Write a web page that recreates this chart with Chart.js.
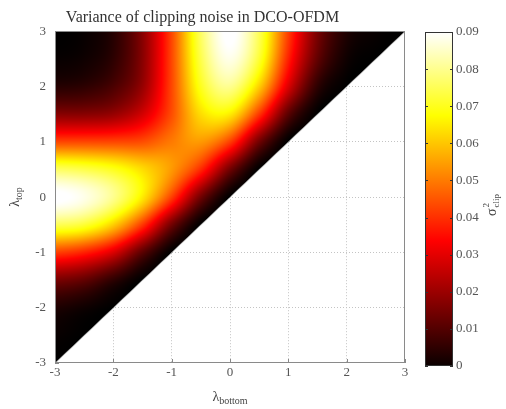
<!DOCTYPE html>
<html>
<head>
<meta charset="utf-8">
<script src="https://cdn.jsdelivr.net/npm/chart.js@4/dist/chart.umd.min.js"></script>
<style>
  html, body { margin: 0; padding: 0; background: #fff; }
  #wrap { position: relative; width: 506px; height: 409px; overflow: hidden; }
  #heat { position: absolute; left: 0; top: 0; }
  #cbar { position: absolute; left: 410px; top: 0; }
</style>
</head>
<body>
<div id="wrap">
  <canvas id="heat" width="420" height="409"></canvas>
  <canvas id="cbar" width="96" height="409"></canvas>
</div>
<script>
// grid nodes of the picture
const lambdaBottom = [-3, -2.5, -2, -1.5, -1, -0.5, 0, 0.5, 1, 1.5, 2, 2.5, 3];
const lambdaTop = [3, 2.5, 2, 1.5, 1, 0.5, 0, -0.5, -1, -1.5, -2, -2.5, -3];

// clipping noise variance, one row per lambda_top (only where bottom <= top)
const rowTop3 = [0.000, 0.001, 0.005, 0.018, 0.043, 0.076, 0.091, 0.075, 0.042, 0.016, 0.004, 0.001, 0.000];
const rowTop2p5 = [0.001, 0.002, 0.006, 0.018, 0.043, 0.074, 0.088, 0.072, 0.038, 0.013, 0.002, 0.000];
const rowTop2 = [0.005, 0.006, 0.010, 0.020, 0.043, 0.070, 0.080, 0.061, 0.029, 0.006, 0.000];
const rowTop1p5 = [0.018, 0.018, 0.020, 0.028, 0.044, 0.063, 0.065, 0.041, 0.012, 0.000];
const rowTop1 = [0.043, 0.043, 0.043, 0.044, 0.050, 0.054, 0.042, 0.015, 0.000];
const rowTop0p5 = [0.076, 0.074, 0.070, 0.063, 0.054, 0.039, 0.015, 0.000];
const rowTop0 = [0.091, 0.088, 0.080, 0.065, 0.042, 0.015, 0.000];
const rowTopM0p5 = [0.075, 0.072, 0.061, 0.041, 0.015, 0.000];
const rowTopM1 = [0.042, 0.038, 0.029, 0.012, 0.000];
const rowTopM1p5 = [0.016, 0.013, 0.006, 0.000];
const rowTopM2 = [0.004, 0.002, 0.000];
const rowTopM2p5 = [0.001, 0.000];
const rowTopM3 = [0.000];

const varianceRows = [rowTop3, rowTop2p5, rowTop2, rowTop1p5, rowTop1, rowTop0p5, rowTop0,
    rowTopM0p5, rowTopM1, rowTopM1p5, rowTopM2, rowTopM2p5, rowTopM3];

const axisTicks = [-3, -2, -1, 0, 1, 2, 3];
const colorTicks = [0, 0.01, 0.02, 0.03, 0.04, 0.05, 0.06, 0.07, 0.08, 0.09];
const colorMax = 0.09;

const serif = '"Liberation Serif", "DejaVu Serif", serif';
const textGray = '#555';

// matlab "hot"
let hot = t => {
    t = Math.min(1, Math.max(0, t));
    return [
        Math.min(1, t / 0.375) * 255,
        Math.min(1, Math.max(0, (t - 0.375) / 0.375)) * 255,
        Math.min(1, Math.max(0, (t - 0.75) / 0.25)) * 255
    ];
};

let heatPoints = [];
varianceRows.forEach((row, r) => {
    row.forEach((v, c) => heatPoints.push({x: lambdaBottom[c], y: lambdaTop[r], v: v}));
});

let cubic = (p0, p1, p2, p3, t) =>
    p1 + 0.5 * t * (p2 - p0 + t * (2 * p0 - 5 * p1 + 4 * p2 - p3 + t * (3 * (p1 - p2) + p3 - p0)));

// draws the field from the dataset nodes, placed through the x/y scales
const heatLayer = {
    id: 'heatLayer',
    beforeDatasetsDraw(chart) {
        const {ctx, chartArea: a, scales: {x, y}} = chart;
        const nR = lambdaTop.length, nC = lambdaBottom.length;
        const grid = lambdaTop.map(() => lambdaBottom.map(() => 0));
        chart.data.datasets[0].data.forEach(p => {
            grid[lambdaTop.indexOf(p.y)][lambdaBottom.indexOf(p.x)] = p.v;
        });
        const g = (r, c) => grid[Math.min(nR - 1, Math.max(0, r))][Math.min(nC - 1, Math.max(0, c))];
        const stepX = lambdaBottom[1] - lambdaBottom[0];
        const stepY = lambdaTop[0] - lambdaTop[1];

        // inward ticks, under the image like matlab
        ctx.save();
        ctx.strokeStyle = '#888';
        ctx.lineWidth = 1;
        axisTicks.forEach(t => {
            const px = Math.round(x.getPixelForValue(t)) + 0.5;
            ctx.beginPath(); ctx.moveTo(px, a.bottom); ctx.lineTo(px, a.bottom - 4); ctx.stroke();
            const py = Math.round(y.getPixelForValue(t)) + 0.5;
            ctx.beginPath(); ctx.moveTo(a.left, py); ctx.lineTo(a.left + 4, py); ctx.stroke();
        });
        ctx.restore();

        const w = Math.round(a.right - a.left), h = Math.round(a.bottom - a.top);
        const off = document.createElement('canvas');
        off.width = w; off.height = h;
        const octx = off.getContext('2d');
        const img = octx.createImageData(w, h);

        const p0x = x.getPixelForValue(lambdaBottom[0]), p0y = y.getPixelForValue(lambdaBottom[0]);
        const p1x = x.getPixelForValue(lambdaBottom[nC - 1]), p1y = y.getPixelForValue(lambdaBottom[nC - 1]);
        const dx = p1x - p0x, dy = p1y - p0y, len = Math.hypot(dx, dy);

        for (let j = 0; j < h; j++) {
            const Y = a.top + j + 0.5;
            const yv = y.getValueForPixel(Y);
            const fr = (lambdaTop[0] - yv) / stepY;
            const r0 = Math.floor(fr), tr = fr - r0;
            for (let i = 0; i < w; i++) {
                const X = a.left + i + 0.5;
                const d = ((X - p0x) * dy - (Y - p0y) * dx) / len;
                const alpha = Math.min(1, Math.max(0, d + 0.5));
                if (alpha <= 0) continue;
                const xv = x.getValueForPixel(X);
                const fc = (xv - lambdaBottom[0]) / stepX;
                const c0 = Math.floor(fc), tc = fc - c0;
                const cols = [];
                for (let k = -1; k <= 2; k++) {
                    cols.push(cubic(g(r0 - 1, c0 + k), g(r0, c0 + k), g(r0 + 1, c0 + k), g(r0 + 2, c0 + k), tr));
                }
                const v = cubic(cols[0], cols[1], cols[2], cols[3], tc);
                const [cr, cg, cb] = hot(v / colorMax);
                const o = (j * w + i) * 4;
                img.data[o] = cr; img.data[o + 1] = cg; img.data[o + 2] = cb;
                img.data[o + 3] = alpha * 255;
            }
        }
        octx.putImageData(img, 0, 0);
        ctx.drawImage(off, a.left, a.top);
    },
    afterDatasetsDraw(chart) {
        const {ctx, chartArea: a} = chart;
        ctx.save();
        ctx.strokeStyle = '#8a8a8a';
        ctx.lineWidth = 1;
        ctx.strokeRect(Math.round(a.left) + 0.5, Math.round(a.top) + 0.5,
            Math.round(a.right - a.left) - 1, Math.round(a.bottom - a.top) - 1);
        ctx.restore();
    },
    afterDraw(chart) {
        const {ctx, chartArea: a} = chart;
        ctx.save();
        ctx.fillStyle = '#444';
        ctx.textBaseline = 'alphabetic';
        // x label: lambda_bottom
        ctx.font = '14px ' + serif;
        const lw = ctx.measureText('λ').width;
        ctx.font = '10px ' + serif;
        const sw = ctx.measureText('bottom').width;
        let sx = (a.left + a.right) / 2 - (lw + sw) / 2;
        ctx.font = '14px ' + serif;
        ctx.fillText('λ', sx, 401);
        ctx.font = '10px ' + serif;
        ctx.fillText('bottom', sx + lw, 404);
        // y label: lambda_top
        ctx.translate(19, 197);
        ctx.rotate(-Math.PI / 2);
        ctx.font = '10px ' + serif;
        const tsw = ctx.measureText('top').width;
        sx = -(lw + tsw) / 2;
        ctx.font = '14px ' + serif;
        ctx.fillText('λ', sx, 0);
        ctx.font = '10px ' + serif;
        ctx.fillText('top', sx + lw, 3);
        ctx.restore();
    }
};

let gridColor = c => (c.tick && Math.abs(c.tick.value) === 3) ? 'rgba(0,0,0,0)' : '#c4c4c4';

new Chart(document.getElementById('heat'), {
    type: 'scatter',
    data: {
        datasets: [{
            label: 'clip variance',
            data: heatPoints,
            pointRadius: 0,
            pointHoverRadius: 0
        }]
    },
    options: {
        responsive: false,
        devicePixelRatio: 1,
        animation: false,
        events: [],
        layout: {padding: {left: 0, right: 15, top: 0, bottom: 0}},
        plugins: {
            legend: {display: false},
            tooltip: {enabled: false},
            title: {
                display: true,
                text: 'Variance of clipping noise in DCO-OFDM',
                color: '#333',
                font: {family: serif, size: 16, weight: 'normal'},
                padding: {top: 8, bottom: 4}
            }
        },
        scales: {
            x: {
                type: 'linear',
                min: -3,
                max: 3,
                afterBuildTicks: s => { s.ticks = axisTicks.map(v => ({value: v})); },
                afterFit: s => { s.height = 46; },
                ticks: {color: textGray, font: {family: serif, size: 13}, padding: 2, maxRotation: 0},
                grid: {color: gridColor, lineWidth: 1, drawTicks: false},
                border: {display: false, dash: [1, 2]}
            },
            y: {
                type: 'linear',
                min: -3,
                max: 3,
                afterBuildTicks: s => { s.ticks = axisTicks.map(v => ({value: v})); },
                afterFit: s => { s.width = 55; },
                ticks: {color: textGray, font: {family: serif, size: 13}, padding: 9},
                grid: {color: gridColor, lineWidth: 1, drawTicks: false},
                border: {display: false, dash: [1, 2]}
            }
        }
    },
    plugins: [heatLayer]
});

// colour bar: one full-height bar filled with the hot ramp along its own scale
const cbarLabel = {
    id: 'cbarLabel',
    afterDatasetsDraw(chart) {
        const {ctx, chartArea: a, scales: {y}} = chart;
        ctx.save();
        ctx.strokeStyle = '#333';
        ctx.lineWidth = 1;
        colorTicks.forEach(t => {
            const py = Math.round(y.getPixelForValue(t)) + 0.5;
            ctx.beginPath(); ctx.moveTo(a.left, py); ctx.lineTo(a.left + 3, py); ctx.stroke();
            ctx.beginPath(); ctx.moveTo(a.right, py); ctx.lineTo(a.right - 3, py); ctx.stroke();
        });
        ctx.strokeRect(Math.round(a.left) + 0.5, Math.round(a.top) + 0.5,
            Math.round(a.right - a.left) - 1, Math.round(a.bottom - a.top) - 1);
        ctx.restore();
    },
    afterDraw(chart) {
        const ctx = chart.ctx;
        ctx.save();
        ctx.fillStyle = '#444';
        ctx.translate(86, 204);
        ctx.rotate(-Math.PI / 2);
        ctx.font = '14px ' + serif;
        const sw = ctx.measureText('σ').width;
        ctx.fillText('σ', -12, 0);
        ctx.font = '9px ' + serif;
        ctx.fillText('2', -12 + sw + 1, -7);
        ctx.fillText('clip', -12 + sw + 1, 3);
        ctx.restore();
    }
};

new Chart(document.getElementById('cbar'), {
    type: 'bar',
    data: {
        labels: [''],
        datasets: [{
            data: [colorMax],
            barPercentage: 1,
            categoryPercentage: 1,
            borderWidth: 0,
            backgroundColor: c => {
                const chart = c.chart;
                if (!chart.chartArea) return '#000';
                const y = chart.scales.y;
                const grad = chart.ctx.createLinearGradient(0, y.getPixelForValue(0), 0, y.getPixelForValue(colorMax));
                grad.addColorStop(0, 'rgb(10,0,0)');
                grad.addColorStop(0.375, 'rgb(255,0,0)');
                grad.addColorStop(0.75, 'rgb(255,255,0)');
                grad.addColorStop(1, 'rgb(255,255,255)');
                return grad;
            }
        }]
    },
    options: {
        responsive: false,
        devicePixelRatio: 1,
        animation: false,
        events: [],
        layout: {padding: {left: 15, right: 0, top: 32, bottom: 43}},
        plugins: {legend: {display: false}, tooltip: {enabled: false}},
        scales: {
            x: {display: false},
            y: {
                position: 'right',
                min: 0,
                max: colorMax,
                afterBuildTicks: s => { s.ticks = colorTicks.map(v => ({value: v})); },
                afterFit: s => { s.width = 53; },
                ticks: {color: textGray, font: {family: serif, size: 13}, padding: 3},
                grid: {display: false, drawTicks: false},
                border: {display: false}
            }
        }
    },
    plugins: [cbarLabel]
});
</script>
</body>
</html>
